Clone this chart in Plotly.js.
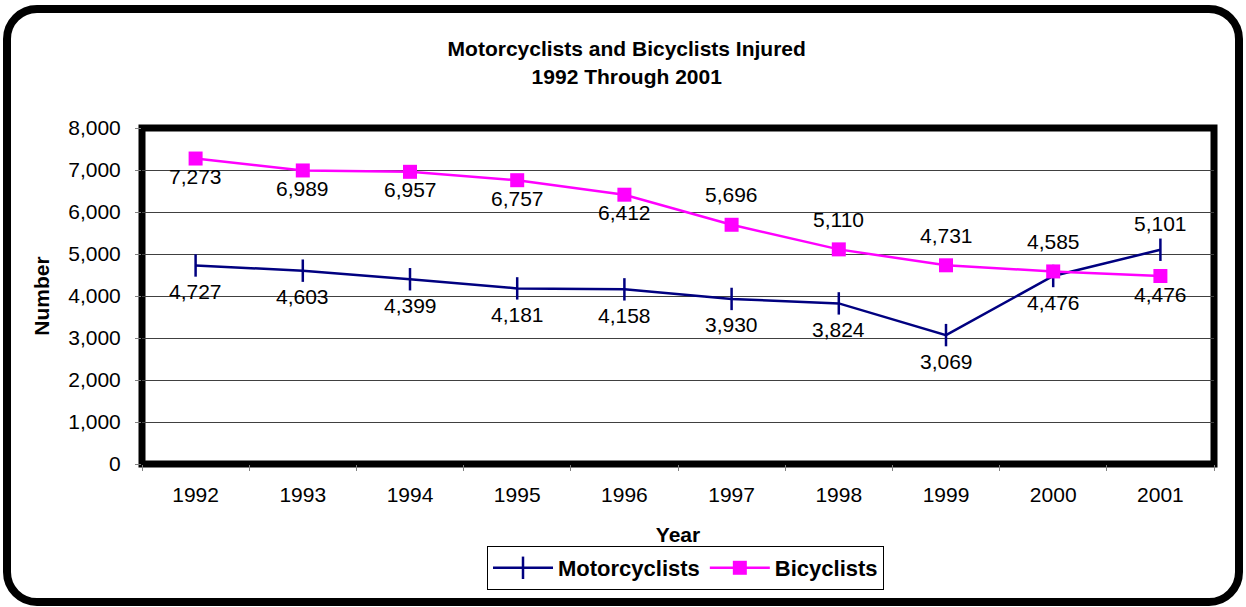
<!DOCTYPE html>
<html>
<head>
<meta charset="utf-8">
<script src="https://cdn.plot.ly/plotly-3.0.1.min.js"></script>
<style>
  html, body { margin: 0; padding: 0; background: #fff; }
  #wrap { position: relative; width: 1246px; height: 607px; overflow: hidden; }
  #frame { position: absolute; left: 3px; top: 5px; width: 1224px; height: 585px;
           border: 8px solid #000; border-radius: 34px; }
  #chart { position: absolute; left: 0; top: 0; width: 1246px; height: 607px; }
</style>
</head>
<body>
<div id="wrap">
  <div id="frame"></div>
  <div id="chart"></div>
</div>
<script>
const years = ['1992','1993','1994','1995','1996','1997','1998','1999','2000','2001'];
const motorcyclists = [4727, 4603, 4399, 4181, 4158, 3930, 3824, 3069, 4476, 5101];
const bicyclists = [7273, 6989, 6957, 6757, 6412, 5696, 5110, 4731, 4585, 4476];
const yTickVals = [0, 1000, 2000, 3000, 4000, 5000, 6000, 7000, 8000];
const yTickText = ['0', '1,000', '2,000', '3,000', '4,000', '5,000', '6,000', '7,000', '8,000'];

// label side for each point: 'b' = below, 'a' = above
const motoSide = ['b','b','b','b','b','b','b','b','b','a'];
const bikeSide = ['b','b','b','b','b','a','a','a','a','b'];

const fontFam = 'Arial, "Liberation Sans", sans-serif';
const fmt = v => v.toLocaleString('en-US');

const traces = [
  {
    x: years, y: motorcyclists, name: 'Motorcyclists', type: 'scatter',
    mode: 'lines+markers',
    line: {color: '#000080', width: 2.5},
    marker: {symbol: 'line-ns', size: 16, line: {color: '#000080', width: 2.5}, color: '#000080'},
    cliponaxis: false
  },
  {
    x: years, y: bicyclists, name: 'Bicyclists', type: 'scatter',
    mode: 'lines+markers',
    line: {color: '#FF00FF', width: 2.5},
    marker: {symbol: 'square', size: 14, color: '#FF00FF'},
    cliponaxis: false
  }
];

// category axis: annotation x is the category index
function labels(values, sides, shiftAbove, shiftBelow) {
  return values.map((v, i) => ({
    x: i, y: v, xref: 'x', yref: 'y',
    text: fmt(v), showarrow: false,
    xanchor: 'center', yanchor: 'middle',
    yshift: sides[i] === 'a' ? shiftAbove : shiftBelow,
    font: {family: fontFam, size: 21, color: '#000'}
  }));
}

const annotations = [].concat(
  labels(motorcyclists, motoSide, 26, -26),
  labels(bicyclists, bikeSide, 30, -18)
);

const layout = {
  width: 1246, height: 607,
  paper_bgcolor: 'rgba(0,0,0,0)',
  plot_bgcolor: 'rgba(0,0,0,0)',
  margin: {l: 142, r: 32, t: 128, b: 143},
  font: {family: fontFam, color: '#000'},
  title: {
    text: '<b>Motorcyclists and Bicyclists Injured<br>1992 Through 2001</b>',
    font: {size: 21, color: '#000'},
    x: 0.503, xanchor: 'center', y: 0.907, yanchor: 'middle'
  },
  xaxis: {
    type: 'category', range: [-0.5, 9.5],
    tickson: 'boundaries', ticks: 'outside', ticklen: 6, tickcolor: '#808080',
    ticklabelstandoff: 16,
    showgrid: false, zeroline: false, showline: false,
    tickfont: {size: 21},
    title: {text: '<b>Year</b>', font: {size: 21}, standoff: 22}
  },
  yaxis: {
    range: [0, 8000], tickvals: yTickVals, ticktext: yTickText,
    ticks: 'outside', ticklen: 6, tickcolor: '#808080',
    ticklabelstandoff: 10,
    showgrid: true, gridcolor: '#404040', gridwidth: 1,
    zeroline: false, showline: false,
    tickfont: {size: 21},
    title: {text: '<b>Number</b>', font: {size: 21}, standoff: 12}
  },
  showlegend: true,
  legend: {
    orientation: 'h', x: 0.507, xanchor: 'center', y: -0.244, yanchor: 'top',
    bordercolor: '#000', borderwidth: 1, bgcolor: '#fff',
    font: {size: 22, color: '#000', weight: 'bold'},
    itemwidth: 60
  },
  annotations: annotations,
  shapes: [
    {type: 'rect', xref: 'paper', yref: 'paper', x0: 0, x1: 1, y0: 0, y1: 1,
     line: {color: '#000', width: 7}, fillcolor: 'rgba(0,0,0,0)', layer: 'below'}
  ]
};

Plotly.newPlot('chart', traces, layout, {displayModeBar: false, staticPlot: true});
</script>
</body>
</html>
